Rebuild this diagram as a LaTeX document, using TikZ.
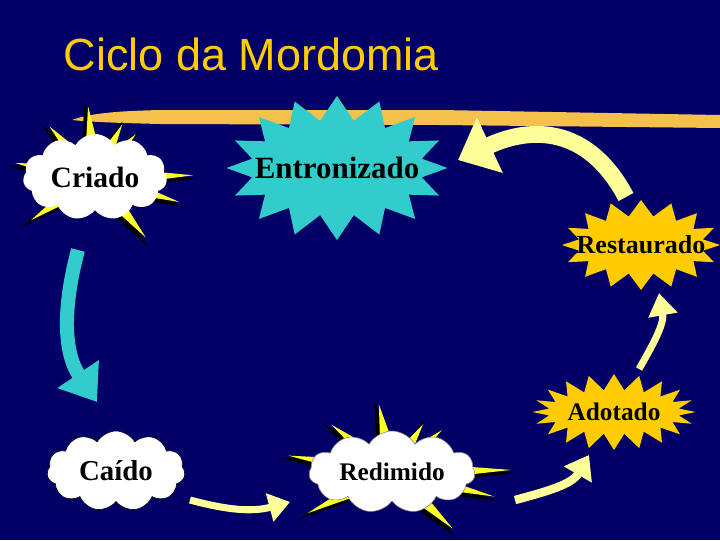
\documentclass[tikz,border=0pt]{standalone}
\usepackage{fontspec}
\setmainfont{Liberation Serif}
\newfontfamily\titlefont{Liberation Sans}
\usetikzlibrary{arrows.meta,shapes.symbols,calc}
\definecolor{bgblue}{RGB}{0,0,102}
\definecolor{stargold}{RGB}{255,204,0}
\definecolor{starcyan}{RGB}{51,204,204}
\definecolor{paleyellow}{RGB}{255,255,153}
\definecolor{brushgold}{RGB}{245,192,75}
\definecolor{spikeyellow}{RGB}{255,255,40}

\begin{document}
\begin{tikzpicture}[x=0.025cm,y=0.025cm,
  burst/.style={starburst,random starburst=0,fill=stargold,inner ysep=0pt},
  puff/.style={cloud,cloud puffs=11,cloud puff arc=120,cloud ignores aspect,fill=white,inner sep=0pt},
  flow/.style={draw=paleyellow}]
\useasboundingbox (0,0) rectangle (720,-540);
\clip (0,0) rectangle (720,-540);
\fill[bgblue] (0,0) rectangle (720,-540);

% title and brush stroke
\node[anchor=base west,text=stargold,font=\titlefont\fontsize{32}{36}\selectfont] (title) at (59,-70) {Ciclo da Mordomia};
\fill[brushgold] (72,-120) .. controls (90,-113) and (120,-111) .. (160,-110) -- (440,-110) -- (720,-115) -- (720,-128) -- (440,-125) -- (160,-124) .. controls (120,-123) and (90,-122) .. (72,-120) -- cycle;

% spikes behind the clouds
\coordinate (criadoc) at (95,-177);
\coordinate (redimc) at (392,-472);
\foreach \a/\l [evaluate=\l as \k using \l-7] in {95.6/78,132/75,62.6/66,46.3/66,170/88,214/84,310/86,1/105,343.5/95}{
  \fill[black] ($(criadoc)+(-3,-3)+(\a:\l)$) -- ($(criadoc)+(-3,-3)+(\a+90:12)$) -- ($(criadoc)+(-3,-3)+(\a-90:12)$) -- cycle;
  \fill[spikeyellow] ($(criadoc)+(\a:\k)$) -- ($(criadoc)+(\a+90:11)$) -- ($(criadoc)+(\a-90:11)$) -- cycle;
}
\foreach \a/\l [evaluate=\l as \k using \l-7] in {101/76,142/84,57/64,40/72,171/112,206/101,317/90,1/126,346.5/112}{
  \fill[black] ($(redimc)+(-3,-3)+(\a:\l)$) -- ($(redimc)+(-3,-3)+(\a+90:12)$) -- ($(redimc)+(-3,-3)+(\a-90:12)$) -- cycle;
  \fill[spikeyellow] ($(redimc)+(\a:\k)$) -- ($(redimc)+(\a+90:11)$) -- ($(redimc)+(\a-90:11)$) -- cycle;
}

% stages
\node[puff,minimum width=3.6cm,minimum height=2.15cm,font=\bfseries\fontsize{21}{24}\selectfont] (criado) at (criadoc) {Criado};
\node[burst,fill=starcyan,starburst points=16,starburst point height=0.6cm,inner xsep=-15pt,minimum height=3.6cm,font=\bfseries\fontsize{22}{24}\selectfont] (entron) at (337,-168) {Entronizado};
\node[burst,starburst points=16,starburst point height=0.4cm,inner xsep=-14pt,minimum height=2.25cm,font=\bfseries\fontsize{18.5}{20}\selectfont] (restaur) at (641,-245) {Restaurado};
\node[burst,starburst points=20,starburst point height=0.4cm,inner xsep=0pt,minimum width=4cm,minimum height=1.9cm,font=\bfseries\fontsize{18}{20}\selectfont] (adot) at (614,-412) {Adotado};
\node[puff,draw=gray,minimum width=4.15cm,minimum height=2.05cm,font=\bfseries\fontsize{18}{20}\selectfont] (redim) at (redimc) {Redimido};
\node[puff,draw=black,minimum width=3.45cm,minimum height=2cm,font=\bfseries\fontsize{20.5}{22}\selectfont] (caido) at (116,-471) {Caído};

% arrows
\draw[starcyan,line width=10pt,-{Triangle[width=34pt,length=24pt]}] ([shift={(-17,-73)}]criado.center) to[out=255,in=124] ([shift={(-19,69)}]caido.center);
\draw[flow,line width=5pt,-{Triangle[width=20pt,length=15pt]}] ([shift={(74,-29)}]caido.center) to[out=-15,in=195] ([shift={(-102,-30)}]redim.center);
\draw[flow,line width=6pt,-{Triangle[width=22pt,length=16pt]}] ([shift={(123,-28)}]redim.center) to[out=15,in=240] ([shift={(-25,-43)}]adot.center);
\draw[flow,line width=5pt,-{Triangle[width=20pt,length=16pt]}] ([shift={(25,43)}]adot.center) to[out=60,in=-80] ([shift={(18,-48)}]restaur.center);
\draw[flow,line width=12pt,-{Triangle[width=42pt,length=25pt]}] ([shift={(-15,48)}]restaur.center) to[out=118,in=25,looseness=1.2] ([shift={(121,8)}]entron.center);
\end{tikzpicture}
\end{document}
